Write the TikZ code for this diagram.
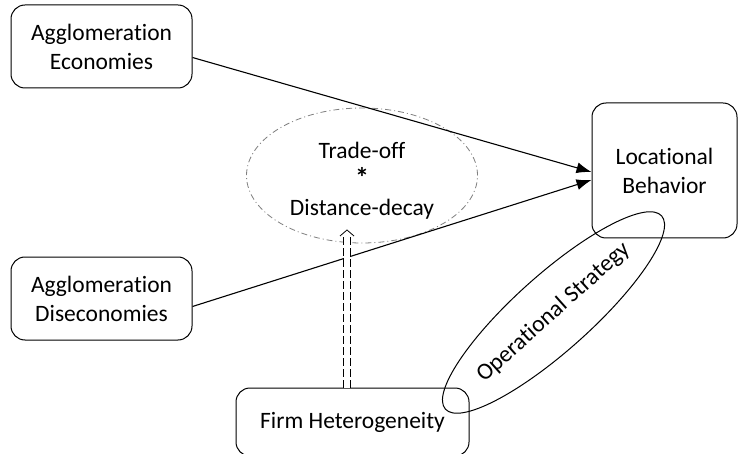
\documentclass[tikz,border=0pt]{standalone}
\usepackage{fontspec}
\setmainfont{Carlito}[Ligatures={NoCommon}]
\usetikzlibrary{arrows.meta,calc,shapes.geometric}
\begin{document}
\begin{tikzpicture}[x=1pt,y=-1pt,
  box/.style={draw, line width=1pt, rounded corners=14pt, align=center,
    font=\fontsize{23.5}{29}\selectfont, inner sep=0pt},
  txt/.style={align=center, font=\fontsize{23.5}{28.5}\selectfont, inner sep=0pt},
  link/.style={line width=1.1pt, -{Latex[length=15pt,width=11pt]}},
  dd/.style={draw=gray, line width=0.8pt, dash pattern=on 6pt off 3pt on 1pt off 3pt},
]
\useasboundingbox (0,0) rectangle (738,454);
\fill[white] (0,0) rectangle (738,454);

\node[box, minimum width=181pt, minimum height=83pt] (ae) at (101.5,46.5) {Agglomeration\\Economies};
\node[box, minimum width=181pt, minimum height=83pt] (ad) at (101.5,298.5) {Agglomeration\\Diseconomies};
\node[box, minimum width=145pt, minimum height=135pt] (lb) at (664.5,170.5) {Locational\\Behavior};
\node[box, minimum width=233pt, minimum height=68pt] (fh) at (352.5,422) {Firm Heterogeneity};

\node[dd, ellipse, minimum width=231pt, minimum height=135pt] (to) at (362,175.5) {};
\node[txt] (tot) at (362,181) {Trade-off\\\textbf{\fontsize{28}{28.5}\selectfont *}\\Distance-decay};

\node[draw, ellipse, line width=1pt, rotate=41.8, minimum width=290pt, minimum height=76pt,
      font=\fontsize{23.5}{28}\selectfont, inner sep=0pt] (os) at (553.5,312.5) {Operational Strategy};

\draw[link] ([yshift=-11pt]ae.east) -- ([yshift=-1.5pt]lb.west);
\draw[link] ([yshift=-8pt]ad.east) -- ([yshift=-9.5pt]lb.west);

\coordinate (tip) at (347,230);
\draw[white, line width=6.6pt] (fh.north -| tip) -- ([yshift=-7pt]tip);
\draw[line width=0.8pt, dash pattern=on 8pt off 3pt, double, double distance=6.6pt]
  (fh.north -| tip) -- ([yshift=-7pt]tip);
\draw[line width=0.8pt] ([xshift=-7pt,yshift=-6pt]tip) -- (tip) -- ([xshift=7pt,yshift=-6pt]tip);
\end{tikzpicture}
\end{document}
